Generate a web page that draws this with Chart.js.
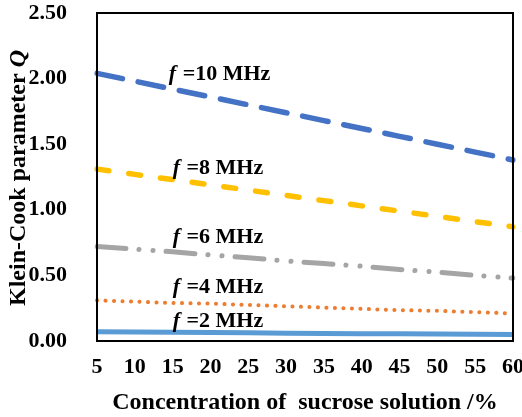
<!DOCTYPE html>
<html>
<head>
<meta charset="utf-8">
<script src="https://cdn.jsdelivr.net/npm/chart.js@4.4.1/dist/chart.umd.min.js"></script>
<style>
  html, body { margin: 0; padding: 0; background: #fff; }
  #wrap { width: 522px; height: 417px; }
</style>
</head>
<body>
<div id="wrap"><canvas id="chart" width="522" height="417"></canvas></div>
<script>
// concentration of sucrose solution (%)
const concentrations = ['5', '10', '15', '20', '25', '30', '35', '40', '45', '50', '55', '60'];

// Klein-Cook parameter Q for each frequency
const q10MHz = [2.04, 1.98, 1.92, 1.86, 1.80, 1.74, 1.68, 1.62, 1.56, 1.50, 1.44, 1.38];
const q8MHz  = [1.31, 1.27, 1.23, 1.19, 1.15, 1.11, 1.07, 1.03, 0.99, 0.95, 0.91, 0.87];
const q6MHz  = [0.72, 0.70, 0.68, 0.655, 0.635, 0.61, 0.59, 0.57, 0.545, 0.525, 0.50, 0.48];
const q4MHz  = [0.31, 0.30, 0.29, 0.285, 0.275, 0.265, 0.255, 0.245, 0.235, 0.23, 0.22, 0.21];
const q2MHz  = [0.07, 0.068, 0.066, 0.064, 0.062, 0.06, 0.058, 0.056, 0.055, 0.053, 0.052, 0.05];

const frequencyLabels = ['10 MHz', '8 MHz', '6 MHz', '4 MHz', '2 MHz'];
// where each label sits: [category index, Q value]
const labelSpots = [[1.9, 2.03], [2.0, 1.32], [2.0, 0.79], [2.0, 0.41], [2.0, 0.15]];

const serif = "'Times New Roman', 'Liberation Serif', serif";

const framePlugin = {
  id: 'frame',
  afterDatasetsDraw(chart) {
    const { ctx, chartArea: a } = chart;
    ctx.save();
    ctx.strokeStyle = '#000';
    ctx.lineWidth = 2;
    ctx.strokeRect(a.left, a.top, a.right - a.left, a.bottom - a.top);
    ctx.restore();
  }
};

const textPlugin = {
  id: 'texts',
  afterDraw(chart) {
    const { ctx } = chart;
    const xs = chart.scales.x, ys = chart.scales.y;
    ctx.save();
    ctx.fillStyle = '#000';
    ctx.textBaseline = 'middle';

    // frequency labels, italic f
    frequencyLabels.forEach((txt, i) => {
      let x = xs.getPixelForValue(labelSpots[i][0]);
      const y = ys.getPixelForValue(labelSpots[i][1]);
      ctx.font = 'italic bold 22px ' + serif;
      ctx.textAlign = 'left';
      ctx.fillText('f', x, y);
      x += ctx.measureText('f ').width + 1;
      ctx.font = 'bold 22px ' + serif;
      ctx.fillText('=' + txt, x, y);
    });

    // y axis title with italic Q
    ctx.translate(19, 178);
    ctx.rotate(-Math.PI / 2);
    const part1 = 'Klein-Cook parameter ';
    ctx.font = 'bold 24px ' + serif;
    const w1 = ctx.measureText(part1).width;
    ctx.font = 'italic bold 24px ' + serif;
    const w2 = ctx.measureText('Q').width;
    let start = -(w1 + w2) / 2;
    ctx.textAlign = 'left';
    ctx.font = 'bold 24px ' + serif;
    ctx.fillText(part1, start, 0);
    ctx.font = 'italic bold 24px ' + serif;
    ctx.fillText('Q', start + w1, 0);
    ctx.restore();
  }
};

function line(data, color, width, dash, cap) {
  return {
    data,
    borderColor: color,
    borderWidth: width,
    borderDash: dash,
    borderCapStyle: cap,
    pointRadius: 0,
    tension: 0,
    fill: false
  };
}

new Chart(document.getElementById('chart'), {
  type: 'line',
  data: {
    labels: concentrations,
    datasets: [
      line(q10MHz, '#4472C4', 5.5, [26, 16], 'round'),
      line(q8MHz, '#FFC000', 5.5, [12, 20], 'round'),
      line(q6MHz, '#A5A5A5', 5, [29, 13, 0.1, 14, 0.1, 13], 'round'),
      line(q4MHz, '#ED7D31', 4, [0.1, 8.4], 'round'),
      line(q2MHz, '#5B9BD5', 5, [], 'butt')
    ]
  },
  options: {
    responsive: false,
    animation: false,
    layout: { padding: { top: 13, right: 9, left: 0, bottom: 0 } },
    plugins: {
      legend: { display: false },
      tooltip: { enabled: false }
    },
    scales: {
      x: {
        offset: false,
        grid: { display: false },
        border: { display: false },
        ticks: {
          color: '#000',
          padding: 5,
          maxRotation: 0,
          autoSkip: false,
          font: { family: serif, size: 22, weight: 'bold' }
        },
        title: {
          display: true,
          text: 'Concentration of  sucrose solution /%',
          color: '#000',
          padding: { top: 12, bottom: 0 },
          font: { family: serif, size: 24, weight: 'bold' }
        },
        afterFit(scale) {
          scale.height = 76;
          scale.paddingLeft = 0;
          scale.paddingRight = 0;
        }
      },
      y: {
        min: 0,
        max: 2.5,
        grid: { display: false },
        border: { display: false },
        ticks: {
          stepSize: 0.5,
          color: '#000',
          padding: 22,
          font: { family: serif, size: 22, weight: 'bold' },
          callback: v => v.toFixed(2)
        },
        afterFit(scale) {
          scale.width = 97;
          scale.paddingTop = 0;
          scale.paddingBottom = 0;
        }
      }
    }
  },
  plugins: [framePlugin, textPlugin]
});
</script>
</body>
</html>
